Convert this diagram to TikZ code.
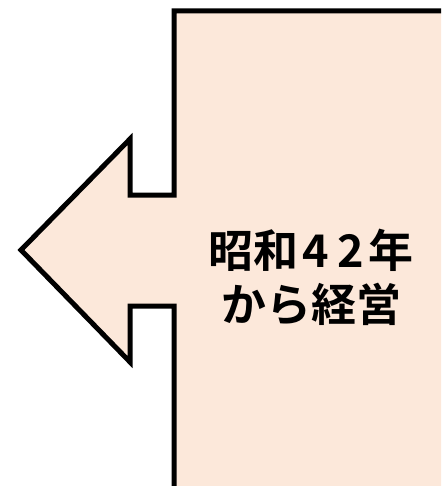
\documentclass[tikz,border=0pt]{standalone}
\usepackage{fontspec}
\newfontfamily\cjk{Noto Sans CJK JP}[BoldFont={Noto Sans CJK JP Bold}]
\definecolor{peach}{HTML}{FCE8DA}
\tikzset{
  arrowshape/.style={draw=black, fill=peach, line width=5pt, line join=miter, miter limit=20},
  label/.style={font=\cjk\bfseries\fontsize{45}{54}\selectfont, align=center, text=black, inner sep=0pt}
}
\begin{document}
\begin{tikzpicture}[x=1pt,y=-1pt]
\useasboundingbox (0,0) rectangle (441,486);
\clip (0,0) rectangle (441,486);
\draw[arrowshape] (174,500) -- (174,306) -- (130,306) -- (130,362) -- (21,250) -- (130,139) -- (130,195) -- (174,195) -- (174,11) -- (470,11) -- (470,500) -- cycle;
\node[label] (txt) at (311,277) {昭和\kern4pt 4\kern8pt 2\kern4pt 年\\から経営};
\end{tikzpicture}
\end{document}
